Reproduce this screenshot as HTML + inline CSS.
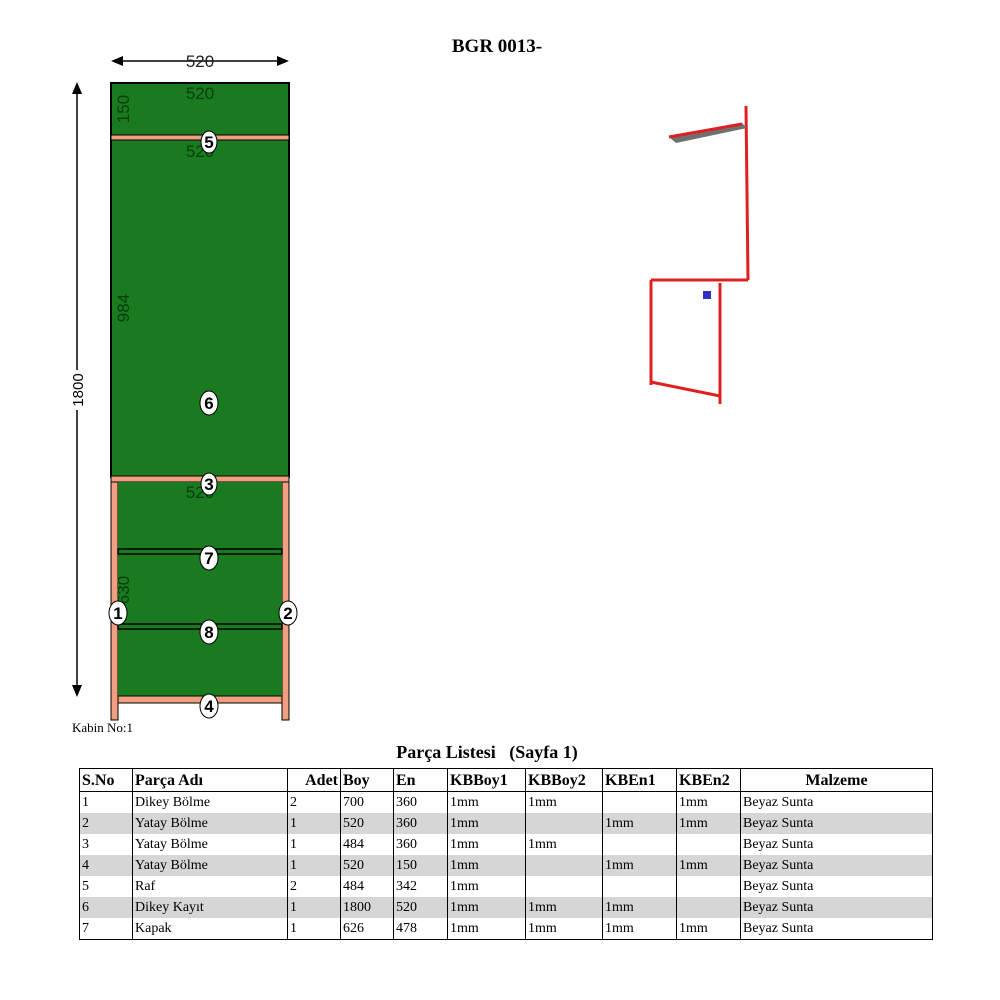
<!DOCTYPE html>
<html><head><meta charset="utf-8"><style>
body{margin:0;background:#fff;width:1000px;height:1000px;overflow:hidden;position:relative;font-family:"Liberation Serif",serif}
svg{position:absolute;left:0;top:0}
table{position:absolute;left:79px;top:768px;border-collapse:collapse;font-size:14px;table-layout:fixed}
td,th{border:1px solid #000;border-top:none;border-bottom:none;padding:0 2px;height:21px;line-height:21px;text-align:left;white-space:nowrap;overflow:hidden}
th{font-size:16px;font-weight:bold;height:22px;border-bottom:1px solid #000;border-top:1px solid #000}
tr.g td{background:#d6d6d6}
tr:last-child td{border-bottom:1px solid #000}
</style></head><body>
<svg width="1000" height="1000" xmlns="http://www.w3.org/2000/svg" font-family="Liberation Sans, sans-serif">
<text x="497" y="52" text-anchor="middle" font-family="Liberation Serif,serif" font-weight="bold" font-size="19">BGR 0013-</text>
<line x1="120" y1="61" x2="280" y2="61" stroke="#000" stroke-width="1.5"/>
<polygon points="111,61 123,56 123,66" fill="#000"/><polygon points="289,61 277,56 277,66" fill="#000"/>
<text x="200" y="67" text-anchor="middle" font-size="17" fill="#222">520</text>
<line x1="77" y1="90" x2="77" y2="690" stroke="#000" stroke-width="1.5"/>
<polygon points="77,82 72,94 82,94" fill="#000"/><polygon points="77,697 72,685 82,685" fill="#000"/>
<rect x="70" y="370" width="14" height="40" fill="#fff"/>
<text transform="translate(83,390) rotate(-90)" text-anchor="middle" font-size="15">1800</text>
<rect x="111" y="83" width="178" height="394" fill="#1a7a1f" stroke="#000" stroke-width="2"/>
<rect x="111" y="135" width="178" height="5" fill="#f0a080" stroke="#000" stroke-width="1"/>
<rect x="111" y="476" width="178" height="6" fill="#f0a080" stroke="#000" stroke-width="1"/>
<rect x="111" y="482" width="7" height="238" fill="#f0a080" stroke="#000" stroke-width="1"/>
<rect x="282" y="482" width="7" height="238" fill="#f0a080" stroke="#000" stroke-width="1"/>
<rect x="118" y="482" width="164" height="214" fill="#1a7a1f"/>
<rect x="118" y="549" width="164" height="5" fill="#1a7a1f" stroke="#000" stroke-width="1.5"/>
<rect x="118" y="624" width="164" height="5" fill="#1a7a1f" stroke="#000" stroke-width="1.5"/>
<rect x="118" y="696" width="164" height="7" fill="#f0a080" stroke="#000" stroke-width="1"/>
<g font-size="17" fill="#0b3d0e">
<text x="200" y="99" text-anchor="middle">520</text>
<text x="200" y="157" text-anchor="middle">520</text>
<text x="200" y="498" text-anchor="middle">520</text>
<text transform="translate(129,109) rotate(-90)" text-anchor="middle">150</text>
<text transform="translate(129,308) rotate(-90)" text-anchor="middle">984</text>
<text transform="translate(129,590) rotate(-90)" text-anchor="middle">630</text>
</g>
<g font-size="17" font-weight="bold" text-anchor="middle">
<ellipse cx="209" cy="142" rx="8" ry="11" fill="#fff" stroke="#000"/><text x="209" y="148">5</text>
<ellipse cx="209" cy="403" rx="9" ry="12" fill="#fff" stroke="#000"/><text x="209" y="409">6</text>
<ellipse cx="209" cy="484" rx="8" ry="11" fill="#fff" stroke="#000"/><text x="209" y="490">3</text>
<ellipse cx="209" cy="558" rx="9" ry="12" fill="#fff" stroke="#000"/><text x="209" y="564">7</text>
<ellipse cx="209" cy="632" rx="9" ry="12" fill="#fff" stroke="#000"/><text x="209" y="638">8</text>
<ellipse cx="209" cy="706" rx="9" ry="12" fill="#fff" stroke="#000"/><text x="209" y="712">4</text>
<ellipse cx="118" cy="613" rx="9" ry="12" fill="#fff" stroke="#000"/><text x="118" y="619">1</text>
<ellipse cx="288" cy="613" rx="9" ry="12" fill="#fff" stroke="#000"/><text x="288" y="619">2</text>
</g>
<text x="72" y="732" font-family="Liberation Serif,serif" font-size="13">Kabin No:1</text>
<g stroke="#e02020" stroke-width="3" fill="none">
<line x1="746" y1="106" x2="748" y2="280"/>
<line x1="651" y1="280" x2="748" y2="280"/>
<line x1="651" y1="280" x2="651" y2="385"/>
<line x1="720" y1="283" x2="720" y2="404"/>
<line x1="651" y1="382" x2="720" y2="396"/>
</g>
<polygon points="669,137 742,123 747,128 676,143" fill="#707070"/>
<line x1="669" y1="137" x2="742" y2="124" stroke="#e02020" stroke-width="3"/>
<rect x="703" y="291" width="8" height="8" fill="#3030c0"/>
<text x="487" y="758" text-anchor="middle" font-family="Liberation Serif,serif" font-weight="bold" font-size="18">Parça Listesi&#160;&#160; (Sayfa 1)</text>
</svg>
<table>
<colgroup><col style="width:53px"><col style="width:155px"><col style="width:53px"><col style="width:53px"><col style="width:54px"><col style="width:78px"><col style="width:77px"><col style="width:74px"><col style="width:64px"><col style="width:192px"></colgroup>
<tr><th>S.No</th><th>Parça Adı</th><th style="text-align:right">Adet</th><th>Boy</th><th>En</th><th>KBBoy1</th><th>KBBoy2</th><th>KBEn1</th><th>KBEn2</th><th style="text-align:center">Malzeme</th></tr>
<tr><td>1</td><td>Dikey Bölme</td><td>2</td><td>700</td><td>360</td><td>1mm</td><td>1mm</td><td></td><td>1mm</td><td>Beyaz Sunta</td></tr>
<tr class="g"><td>2</td><td>Yatay Bölme</td><td>1</td><td>520</td><td>360</td><td>1mm</td><td></td><td>1mm</td><td>1mm</td><td>Beyaz Sunta</td></tr>
<tr><td>3</td><td>Yatay Bölme</td><td>1</td><td>484</td><td>360</td><td>1mm</td><td>1mm</td><td></td><td></td><td>Beyaz Sunta</td></tr>
<tr class="g"><td>4</td><td>Yatay Bölme</td><td>1</td><td>520</td><td>150</td><td>1mm</td><td></td><td>1mm</td><td>1mm</td><td>Beyaz Sunta</td></tr>
<tr><td>5</td><td>Raf</td><td>2</td><td>484</td><td>342</td><td>1mm</td><td></td><td></td><td></td><td>Beyaz Sunta</td></tr>
<tr class="g"><td>6</td><td>Dikey Kayıt</td><td>1</td><td>1800</td><td>520</td><td>1mm</td><td>1mm</td><td>1mm</td><td></td><td>Beyaz Sunta</td></tr>
<tr><td>7</td><td>Kapak</td><td>1</td><td>626</td><td>478</td><td>1mm</td><td>1mm</td><td>1mm</td><td>1mm</td><td>Beyaz Sunta</td></tr>
</table>
</body></html>
